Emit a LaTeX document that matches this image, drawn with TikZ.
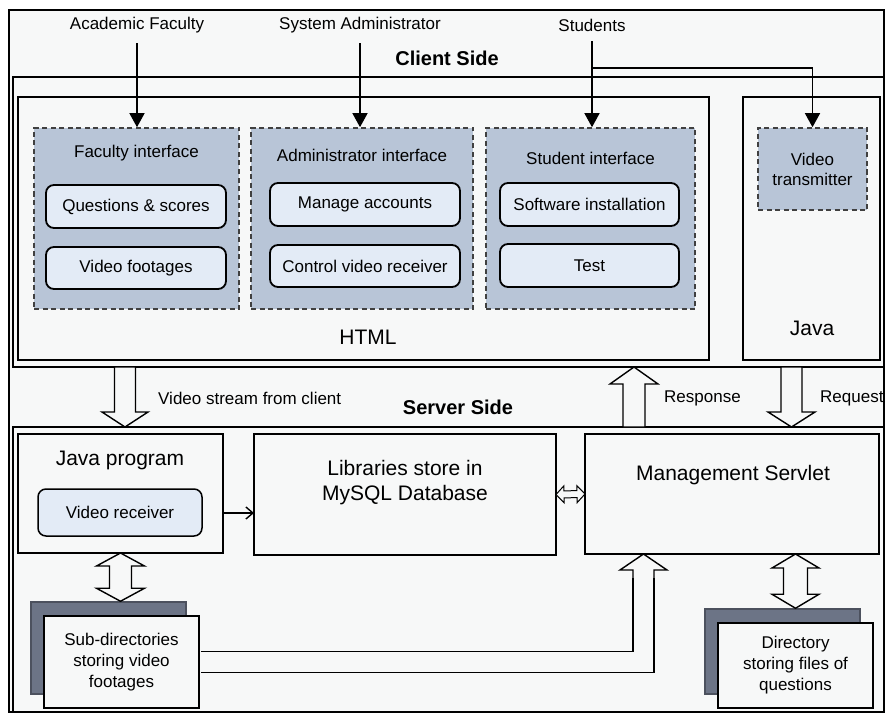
\documentclass[tikz,border=0pt]{standalone}
\usepackage{fontspec}
\setmainfont{Liberation Sans}
\usetikzlibrary{calc,arrows.meta,shadows}

\definecolor{paper}{RGB}{247,248,248}
\definecolor{panelblue}{RGB}{184,197,215}
\definecolor{itemblue}{RGB}{227,235,246}
\definecolor{shadegray}{RGB}{108,116,134}

\begin{document}
\begin{tikzpicture}[x=1pt, y=-1pt,
txt/.style = {inner sep=0pt, align=center, font=\fontsize{17}{20}\selectfont},
bigtxt/.style = {inner sep=0pt, align=center, font=\fontsize{21}{25}\selectfont},
sidetxt/.style = {inner sep=0pt, font=\fontsize{20}{24}\selectfont\bfseries},
framebox/.style = {draw, line width=2.8pt, fill=paper, inner sep=0pt, outer sep=0pt},
panelbox/.style = {draw=black!75, line width=1.6pt, dash pattern=on 5pt off 3.5pt, 
                   fill=panelblue, inner sep=0pt},
itembox/.style = {txt, draw, line width=1.8pt, rounded corners=8pt, fill=itemblue},
storebox/.style = {txt, draw, line width=1.5pt, fill=paper, font=\fontsize{17}{21}\selectfont,
                   copy shadow={shadow xshift=-13pt, shadow yshift=14pt, fill=shadegray, 
                   draw=shadegray!70!black}},
feedline/.style = {draw, line width=1.4pt, shorten <=10pt, -{Triangle[length=14pt,width=15pt]}},
thinarrow/.style = {draw, line width=1.4pt, -{Straight Barb[length=7pt,width=12pt]}},
fatarrow/.style n args={3}{draw, line width=1.4pt, fill=paper, to path={
    let \p1=(\tikztostart), \p2=(\tikztotarget), \p4=($(\p2)!#3!(\p1)$) in
    ($(\p1)!#1!90:(\p2)$) -- ($(\p4)!#1!-90:(\p1)$) -- ($(\p4)!#2!-90:(\p1)$) -- (\p2)
    -- ($(\p4)!#2!90:(\p1)$) -- ($(\p4)!#1!90:(\p1)$) -- ($(\p1)!#1!-90:(\p2)$) -- cycle}},
fatpair/.style n args={3}{draw, line width=1.4pt, fill=paper, to path={
    let \p1=(\tikztostart), \p2=(\tikztotarget),
        \p3=($(\p1)!#3!(\p2)$), \p4=($(\p2)!#3!(\p1)$) in
    (\p1) -- ($(\p3)!#2!90:(\p2)$) -- ($(\p3)!#1!90:(\p2)$) -- ($(\p4)!#1!-90:(\p1)$)
    -- ($(\p4)!#2!-90:(\p1)$) -- (\p2) -- ($(\p4)!#2!90:(\p1)$) -- ($(\p4)!#1!90:(\p1)$)
    -- ($(\p3)!#1!-90:(\p2)$) -- ($(\p3)!#2!-90:(\p2)$) -- cycle}}]

\useasboundingbox (0,0) rectangle (885,714);

% frames
\node[framebox, minimum width=875pt, minimum height=702pt] (outer) at (446.5,361) {};
\node[framebox, minimum width=871pt, minimum height=290pt] (client) at (448.5,222) {};
\node[framebox, minimum width=871pt, minimum height=285pt] (server) at (448.5,569.5) {};
\node[framebox, minimum width=691pt, minimum height=263pt] (html) at (363.5,228.5) {};
\node[framebox, minimum width=137pt, minimum height=263pt] (java) at (811.5,228.5) {};

\node[txt] (faculty) at (137,25) {Academic Faculty};
\node[txt] (sysadmin) at (360,25) {System Administrator};
\node[txt] (students) at (592,25) {Students};
\node[sidetxt] (clientlbl) at (447,58) {Client Side};

% client side
\node[panelbox, minimum width=205pt, minimum height=181pt] (facpanel) at (136.5,218.5) {};
\node[txt] (factitle) at (136.5,153) {Faculty interface};
\node[itembox, minimum width=180pt, minimum height=43pt] (scores) at (136,206.5) {Questions \& scores};
\node[itembox, minimum width=180pt, minimum height=42pt] (footage) at (136,268) {Video footages};

\node[panelbox, minimum width=222pt, minimum height=181pt] (admpanel) at (362,218.5) {};
\node[txt] (admtitle) at (362,155) {Administrator interface};
\node[itembox, minimum width=190pt, minimum height=43pt] (accounts) at (365,204.5) {Manage accounts};
\node[itembox, minimum width=190pt, minimum height=42pt] (control) at (365,266) {Control video receiver};

\node[panelbox, minimum width=209pt, minimum height=181pt] (stupanel) at (590.5,218.5) {};
\node[txt] (stutitle) at (590.5,158) {Student interface};
\node[itembox, minimum width=179pt, minimum height=43pt] (install) at (589.5,204.5) {Software installation};
\node[itembox, minimum width=179pt, minimum height=43pt] (test) at (589.5,265.5) {Test};

\node[panelbox, txt, minimum width=109pt, minimum height=82pt] (transmit) at (812.5,169) {Video\\transmitter};

\node[bigtxt] (htmllbl) at (368,337) {HTML};
\node[bigtxt] (javalbl) at (812,328) {Java};

\coordinate (fork) at (592,68);
\draw[feedline] (faculty.south) -- (faculty.south |- facpanel.north);
\draw[feedline] (sysadmin.south) -- (sysadmin.south |- admpanel.north);
\draw[feedline] (students.south) -- (students.south |- stupanel.north);
\draw[feedline, shorten <=0pt] (fork) -| (transmit.north);

% between the sides
\node[sidetxt] (serverlbl) at (458,407) {Server Side};
\node[txt, anchor=west] (streamlbl) at (158,398) {Video stream from client};
\node[txt, anchor=west] (resplbl) at (664,398) {Response};
\node[txt, anchor=west] (reqlbl) at (820,398) {Request};

\draw[fatarrow={10.5pt}{23pt}{15pt}] (client.south -| 125,0) to (server.north -| 125,0);
\draw[fatarrow={11pt}{24pt}{17pt}] (server.north -| 634,0) to (client.south -| 634,0);
\draw[fatarrow={10.5pt}{23.5pt}{15pt}] (client.south -| 791.5,0) to (server.north -| 791.5,0);

% server side
\node[framebox, minimum width=205pt, minimum height=119pt] (jprog) at (120.5,493.5) {};
\node[bigtxt] (jprogtitle) at (120,460) {Java program};
\node[itembox, line width=1.5pt, minimum width=164pt, minimum height=47pt] (receiver) at (120,512.5) {Video receiver};
\node[framebox, minimum width=302pt, minimum height=121pt] (mysql) at (405,494.5) {};
\node[bigtxt] (mysqltext) at (405,482.5) {Libraries store in\\MySQL Database};
\node[framebox, minimum width=294pt, minimum height=120pt] (servlet) at (732,494) {};
\node[bigtxt] (servlettitle) at (733,475) {Management Servlet};

\node[storebox, minimum width=155pt, minimum height=92pt] (subdir) at (121.5,662)
  {Sub-directories\\storing video\\footages};
\node[storebox, minimum width=155pt, minimum height=85pt] (qdir) at (795.5,665.5)
  {Directory\\storing files of\\questions};

\draw[thinarrow] ([yshift=-19.5pt]jprog.east) -- ([yshift=-19.5pt]jprog.east -| mysql.west);
\draw[fatpair={3.5pt}{8.5pt}{8pt}, line width=1pt] (mysql.east) to (servlet.west);
\draw[fatpair={11pt}{24pt}{13pt}] (jprog.south) to ($(jprog.south |- subdir.north)+(0,-14)$);
\draw[fatpair={12pt}{23.5pt}{14pt}] (servlet.south -| qdir.north) to ($(qdir.north)+(0,-14)$);

\draw[fatarrow={10.5pt}{23.5pt}{16pt}] ($(servlet.south)+(-88.5,30)$) to ([xshift=-88.5pt]servlet.south);
\draw[line width=1.4pt, double=paper, double distance=19.6pt]
  ([xshift=1pt]subdir.east) -| ($(servlet.south)+(-88.5,24)$);
\end{tikzpicture}
\end{document}
